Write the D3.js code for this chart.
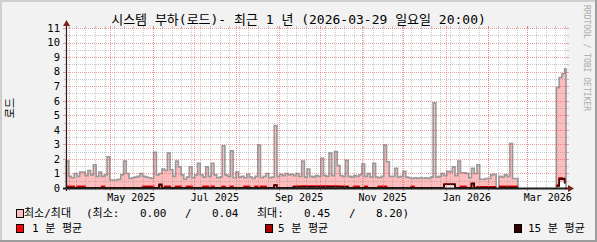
<!DOCTYPE html>
<html>
<head>
<meta charset="utf-8">
<script src="https://cdn.jsdelivr.net/npm/d3@7"></script>
<style>
  html, body { margin: 0; padding: 0; background: #f2f2f2; }
  svg { display: block; }
  text { font-family: "DejaVu Sans Mono", "Noto Sans CJK KR", monospace; fill: #000; }
</style>
</head>
<body>
<div id="chart"></div>
<script>
const title = "시스템 부하(로드)- 최근 1 년 (2026-03-29 일요일 20:00)";
const yLabel = "로드";
const watermark = "RRDTOOL / TOBI OETIKER";

const startTime = new Date(2025, 2, 29, 20, 0);
const endTime = new Date(2026, 2, 29, 20, 0);
const binDays = 2;

const yTicks = [0, 1, 2, 3, 4, 5, 6, 7, 8, 9, 10, 11];
const labelMonths = [new Date(2025, 4, 1), new Date(2025, 6, 1), new Date(2025, 8, 1),
  new Date(2025, 10, 1), new Date(2026, 0, 1), new Date(2026, 2, 1)];

// max load per 2-day bin (null = no data)
const maxLoad = [
  1.85, 0.8, 0.7, 1.0, 0.8, 1.1, 1.1, 0.85, 1.2, 0.9,
  1.6, 0.8, 1.1, 0.8, 0.9, 2.15, 0.55, 0.55, 0.55, 0.6,
  0.9, 1.85, 1.0, 0.65, 0.7, 0.75, 0.8, 1.0, 0.8, 0.75,
  0.7, 0.65, 2.45, 0.9, 1.0, 1.3, 1.2, 2.4, 1.25, 0.8,
  1.85, 1.45, 0.9, 0.6, 0.75, 1.45, 0.7, 0.9, 1.7, 0.9,
  0.75, 1.45, 0.8, 1.7, 0.9, 0.7, 0.75, 2.9, 0.9, 0.8,
  2.55, 0.7, 1.1, 0.75, 0.8, 0.7, 0.95, 0.75, 0.65, 0.8,
  2.95, 0.7, 0.8, 1.0, 0.7, 0.75, 4.3, 0.8, 0.95, 0.85,
  1.0, 0.9, 0.95, 0.85, 1.0, 0.8, 1.85, 0.75, 1.3, 0.8,
  0.75, 0.85, 0.8, 2.05, 0.85, 0.8, 2.4, 0.85, 2.5, 1.55,
  0.85, 0.8, 1.9, 0.8, 0.75, 0.85, 0.8, 0.9, 1.65, 0.8,
  1.0, 0.75, 1.7, 0.75, 0.7, 0.8, 2.95, 1.8, 0.8, 0.8,
  1.35, 0.75, 0.8, 1.15, 0.75, 0.7, 0.65, 0.7, 0.65, 0.7,
  0.65, 0.7, 0.65, 0.75, 5.85, 0.75, 0.8, 1.0, 0.85, 1.15,
  1.1, 1.45, 0.85, 1.85, 1.05, 1.05, 1.0, 0.7, 1.35, 1.0,
  1.6, 0.6, 0.6, 0.65, 0.65, 0.9, 0.95, null, 0.8, 0.75,
  0.9, 0.8, 3.05, 0.65, 0.65, null, null, null, null, null,
  null, null, null, null, null, null, null, null, null, 6.9,
  7.6, 7.85, 8.2
];

const minLoad = [
  0, 0, 0, 0, 0, 0, 0, 0, 0, 0,
  0, 0, 0, 0, 0, 0, 0, 0, 0, 0,
  0, 0, 0, 0, 0, 0, 0, 0, 0, 0,
  0, 0, 0, 0, 0, 0, 0, 0, 0, 0,
  0, 0, 0, 0, 0, 0, 0, 0, 0, 0,
  0, 0, 0, 0, 0, 0, 0, 0, 0, 0,
  0, 0, 0, 0, 0, 0, 0, 0, 0, 0,
  0, 0, 0, 0, 0, 0, 0, 0, 0, 0,
  0, 0, 0, 0, 0, 0, 0, 0, 0, 0,
  0, 0, 0, 0, 0, 0, 0, 0, 0, 0,
  0, 0, 0, 0, 0, 0, 0, 0, 0, 0,
  0, 0, 0, 0, 0, 0, 0, 0, 0, 0,
  0, 0, 0, 0, 0, 0, 0, 0, 0, 0,
  0, 0, 0, 0, 0, 0, 0, 0, 0.22, 0.22,
  0.22, 0.22, 0, 0, 0, 0, 0, 0, 0, 0,
  0, 0, 0, 0, 0, 0, 0, null, 0, 0,
  0, 0, 0, 0, 0, null, null, null, null, null,
  null, null, null, null, null, null, null, null, null, 0,
  0.4, 0.45, 0.3
];

const avg1 = [
  0.12, 0.12, 0.12, 0.01, 0.12, 0.12, 0.12, 0.01, 0.01, 0.01,
  0.01, 0.01, 0.01, 0.12, 0.01, 0.01, 0.01, 0.01, 0.01, 0.01,
  0.01, 0.01, 0.01, 0.01, 0.01, 0.01, 0.01, 0.01, 0.12, 0.12,
  0.12, 0.12, 0.01, 0.01, 0.15, 0.01, 0.12, 0.12, 0.01, 0.01,
  0.12, 0.12, 0.01, 0.01, 0.12, 0.12, 0.01, 0.01, 0.01, 0.01,
  0.12, 0.12, 0.01, 0.12, 0.01, 0.01, 0.01, 0.12, 0.01, 0.01,
  0.12, 0.01, 0.01, 0.01, 0.01, 0.12, 0.12, 0.01, 0.01, 0.12,
  0.01, 0.12, 0.12, 0.01, 0.01, 0.01, 0.2, 0.01, 0.01, 0.01,
  0.01, 0.01, 0.01, 0.12, 0.12, 0.12, 0.13, 0.13, 0.12, 0.13,
  0.13, 0.12, 0.13, 0.13, 0.12, 0.13, 0.12, 0.13, 0.13, 0.12,
  0.12, 0.12, 0.12, 0.01, 0.01, 0.12, 0.12, 0.01, 0.01, 0.12,
  0.01, 0.01, 0.01, 0.01, 0.12, 0.12, 0.12, 0.01, 0.01, 0.01,
  0.01, 0.01, 0.01, 0.01, 0.01, 0.01, 0.12, 0.01, 0.01, 0.01,
  0.01, 0.01, 0.01, 0.01, 0.01, 0.01, 0.01, 0.01, 0.24, 0.24,
  0.24, 0.24, 0.01, 0.01, 0.12, 0.12, 0.01, 0.01, 0.3, 0.01,
  0.09, 0.09, 0.09, 0.09, 0.09, 0.09, 0.09, null, 0.12, 0.12,
  0.12, 0.12, 0.12, 0.12, 0.12, null, null, null, null, null,
  null, null, null, null, null, null, null, null, null, 0.2,
  0.7, 0.6, 0.45
];

const avg5 = [
  0.08, 0.08, 0.06, 0.01, 0.06, 0.08, 0.06, 0.01, 0.01, 0.01,
  0.01, 0.01, 0.01, 0.06, 0.01, 0.01, 0.01, 0.01, 0.01, 0.01,
  0.01, 0.01, 0.01, 0.01, 0.01, 0.01, 0.01, 0.01, 0.08, 0.08,
  0.08, 0.06, 0.01, 0.01, 0.2, 0.01, 0.06, 0.08, 0.01, 0.01,
  0.06, 0.06, 0.01, 0.01, 0.06, 0.06, 0.01, 0.01, 0.01, 0.01,
  0.06, 0.06, 0.01, 0.06, 0.01, 0.01, 0.01, 0.06, 0.01, 0.01,
  0.06, 0.01, 0.01, 0.01, 0.01, 0.06, 0.06, 0.01, 0.01, 0.06,
  0.01, 0.06, 0.06, 0.01, 0.01, 0.01, 0.18, 0.01, 0.01, 0.01,
  0.01, 0.01, 0.01, 0.08, 0.1, 0.1, 0.11, 0.11, 0.1, 0.11,
  0.11, 0.1, 0.11, 0.11, 0.1, 0.11, 0.11, 0.11, 0.11, 0.1,
  0.1, 0.08, 0.08, 0.01, 0.01, 0.06, 0.06, 0.01, 0.01, 0.06,
  0.01, 0.01, 0.01, 0.01, 0.06, 0.06, 0.06, 0.01, 0.01, 0.01,
  0.01, 0.01, 0.01, 0.01, 0.01, 0.01, 0.06, 0.01, 0.01, 0.01,
  0.01, 0.01, 0.01, 0.01, 0.01, 0.01, 0.01, 0.01, 0.25, 0.25,
  0.25, 0.25, 0.01, 0.01, 0.06, 0.06, 0.01, 0.01, 0.3, 0.01,
  0.05, 0.05, 0.05, 0.05, 0.05, 0.05, 0.05, null, 0.06, 0.06,
  0.06, 0.06, 0.06, 0.06, 0.06, null, null, null, null, null,
  null, null, null, null, null, null, null, null, null, 0.16,
  0.62, 0.62, 0.4
];

const avg15 = [
  0.01, 0.01, 0.01, 0.01, 0.01, 0.01, 0.01, 0.01, 0.01, 0.01,
  0.01, 0.01, 0.01, 0.01, 0.01, 0.01, 0.01, 0.01, 0.01, 0.01,
  0.01, 0.01, 0.01, 0.01, 0.01, 0.01, 0.01, 0.01, 0.01, 0.01,
  0.01, 0.01, 0.01, 0.01, 0.25, 0.01, 0.01, 0.01, 0.01, 0.01,
  0.01, 0.01, 0.01, 0.01, 0.01, 0.01, 0.01, 0.01, 0.01, 0.01,
  0.01, 0.01, 0.01, 0.01, 0.01, 0.01, 0.01, 0.01, 0.01, 0.01,
  0.01, 0.01, 0.01, 0.01, 0.01, 0.01, 0.01, 0.01, 0.01, 0.01,
  0.01, 0.01, 0.01, 0.01, 0.01, 0.01, 0.2, 0.01, 0.01, 0.01,
  0.01, 0.01, 0.01, 0.07, 0.07, 0.07, 0.07, 0.07, 0.07, 0.07,
  0.07, 0.07, 0.07, 0.07, 0.07, 0.07, 0.07, 0.07, 0.07, 0.07,
  0.07, 0.07, 0.07, 0.01, 0.01, 0.01, 0.01, 0.01, 0.01, 0.01,
  0.01, 0.01, 0.01, 0.01, 0.01, 0.01, 0.01, 0.01, 0.01, 0.01,
  0.01, 0.01, 0.01, 0.01, 0.01, 0.01, 0.01, 0.01, 0.01, 0.01,
  0.01, 0.01, 0.01, 0.01, 0.01, 0.01, 0.01, 0.01, 0.25, 0.25,
  0.25, 0.25, 0.01, 0.01, 0.01, 0.01, 0.01, 0.01, 0.32, 0.01,
  0.01, 0.01, 0.01, 0.01, 0.01, 0.01, 0.01, null, 0.04, 0.04,
  0.04, 0.04, 0.04, 0.04, 0.04, null, null, null, null, null,
  null, null, null, null, null, null, null, null, null, 0.14,
  0.6, 0.65, 0.36
];

const legendStats = ["0.00", "0.04", "0.45", "8.20"];

const colors = {
  back: "#f2f2f2", canvas: "#ffffff", shadeA: "#cfcfcf", shadeB: "#9e9e9e",
  grid: "rgba(140,140,140,0.45)", mgrid: "rgba(222,79,79,0.55)",
  axis: "#1f1f1f", arrow: "#801f1f",
  area: "#ffbcbc", maxLine: "#999999",
  avg1: "#ff0000", avg5: "#aa0000", avg15: "#330000"
};

const W = 597, H = 242;
const plot = { left: 66, right: 566, top: 28, bottom: 188 };

const svg = d3.select("#chart").append("svg")
  .attr("width", W)
  .attr("height", H);

// background and 3d frame
svg.append("rect").attr("width", W).attr("height", H).attr("fill", colors.back);
svg.append("path").attr("d", `M0,0H${W}V2H2V${H}H0Z`).attr("fill", colors.shadeA);
svg.append("path").attr("d", `M${W},${H}H0V${H - 2}H${W - 2}V0H${W}Z`).attr("fill", colors.shadeB);

svg.append("rect")
  .attr("x", plot.left).attr("y", plot.top)
  .attr("width", plot.right - plot.left + 1).attr("height", plot.bottom - plot.top)
  .attr("fill", colors.canvas);

const x = d3.scaleTime().domain([startTime, endTime]).range([plot.left, plot.right]);
const y = d3.scaleLinear().domain([0, 11]).range([plot.bottom, plot.top]);

const binMs = binDays * 864e5;
const bins = maxLoad.map((v, i) => ({
  t0: new Date(+startTime + i * binMs),
  t1: new Date(Math.min(+startTime + (i + 1) * binMs, +endTime)),
  max: v, min: minLoad[i], a1: avg1[i], a5: avg5[i], a15: avg15[i]
}));
const steps = bins.flatMap(b => [{ ...b, t: b.t0 }, { ...b, t: b.t1 }]);

// min / max band
svg.append("path")
  .datum(steps)
  .attr("fill", colors.area)
  .attr("d", d3.area()
    .defined(d => d.max != null)
    .x(d => x(d.t))
    .y0(d => y(d.min))
    .y1(d => y(d.max)));

// max outline, closed down to zero at each data block edge
const outline = [];
bins.forEach((b, i) => {
  const prev = bins[i - 1], next = bins[i + 1];
  if (b.max == null) { outline.push(null); return; }
  if (!prev || prev.max == null) outline.push({ t: b.t0, v: 0 });
  outline.push({ t: b.t0, v: b.max }, { t: b.t1, v: b.max });
  if (!next || next.max == null) outline.push({ t: b.t1, v: 0 });
});

svg.append("path")
  .datum(outline)
  .attr("fill", "none")
  .attr("stroke", colors.maxLine)
  .attr("stroke-width", 1.6)
  .attr("d", d3.line().defined(d => d).x(d => x(d.t)).y(d => y(d.v)));

[["a1", colors.avg1], ["a5", colors.avg5], ["a15", colors.avg15]].forEach(([key, col]) => {
  svg.append("path")
    .datum(steps)
    .attr("fill", "none")
    .attr("stroke", col)
    .attr("stroke-width", 1.5)
    .attr("d", d3.line().defined(d => d[key] != null).x(d => x(d.t)).y(d => y(d[key])));
});

// grid (drawn over the data, like rrdtool)
const grid = svg.append("g").attr("stroke-dasharray", "1,1").attr("stroke-width", 1);
const snap = v => Math.round(v) + 0.5;

const minorY = d3.range(0.5, 11, 1);
grid.selectAll(".ygrid-minor").data(minorY).enter().append("line")
  .attr("x1", plot.left).attr("x2", plot.right + 1)
  .attr("y1", d => snap(y(d))).attr("y2", d => snap(y(d)))
  .attr("stroke", colors.grid);

const weeks = d3.timeSunday.range(startTime, endTime);
grid.selectAll(".xgrid-minor").data(weeks).enter().append("line")
  .attr("x1", d => snap(x(d))).attr("x2", d => snap(x(d)))
  .attr("y1", plot.top).attr("y2", plot.bottom)
  .attr("stroke", colors.grid);

grid.selectAll(".ygrid-major").data(yTicks.slice(1)).enter().append("line")
  .attr("x1", plot.left).attr("x2", plot.right + 1)
  .attr("y1", d => snap(y(d))).attr("y2", d => snap(y(d)))
  .attr("stroke", colors.mgrid);

const months = d3.timeMonth.range(startTime, endTime);
grid.selectAll(".xgrid-major").data(months).enter().append("line")
  .attr("x1", d => snap(x(d))).attr("x2", d => snap(x(d)))
  .attr("y1", plot.top).attr("y2", plot.bottom)
  .attr("stroke", colors.mgrid);

// small tick marks outside the plot
const ticks = svg.append("g").attr("stroke-width", 1);
weeks.forEach(d => {
  ticks.append("line").attr("x1", snap(x(d))).attr("x2", snap(x(d)))
    .attr("y1", plot.top - 2).attr("y2", plot.top).attr("stroke", colors.grid);
  ticks.append("line").attr("x1", snap(x(d))).attr("x2", snap(x(d)))
    .attr("y1", plot.bottom).attr("y2", plot.bottom + 2).attr("stroke", colors.grid);
});
months.forEach(d => {
  ticks.append("line").attr("x1", snap(x(d))).attr("x2", snap(x(d)))
    .attr("y1", plot.top - 2).attr("y2", plot.top).attr("stroke", colors.mgrid);
  ticks.append("line").attr("x1", snap(x(d))).attr("x2", snap(x(d)))
    .attr("y1", plot.bottom).attr("y2", plot.bottom + 3).attr("stroke", colors.mgrid);
});
minorY.forEach(d => {
  ticks.append("line").attr("x1", plot.left - 2).attr("x2", plot.left)
    .attr("y1", snap(y(d))).attr("y2", snap(y(d))).attr("stroke", colors.grid);
  ticks.append("line").attr("x1", plot.right + 1).attr("x2", plot.right + 3)
    .attr("y1", snap(y(d))).attr("y2", snap(y(d))).attr("stroke", colors.grid);
});
yTicks.forEach(d => {
  ticks.append("line").attr("x1", plot.left - 3).attr("x2", plot.left)
    .attr("y1", snap(y(d))).attr("y2", snap(y(d))).attr("stroke", colors.mgrid);
  ticks.append("line").attr("x1", plot.right + 1).attr("x2", plot.right + 3)
    .attr("y1", snap(y(d))).attr("y2", snap(y(d))).attr("stroke", colors.mgrid);
});

// axes with arrows
svg.append("line")
  .attr("x1", plot.left - 3).attr("x2", plot.right + 3)
  .attr("y1", y(0) + 0.5).attr("y2", y(0) + 0.5)
  .attr("stroke", colors.axis).attr("stroke-width", 2);
svg.append("line")
  .attr("x1", plot.left + 0.5).attr("x2", plot.left + 0.5)
  .attr("y1", plot.bottom + 3).attr("y2", plot.top - 3)
  .attr("stroke", colors.axis).attr("stroke-width", 1.2);
svg.append("path")
  .attr("d", `M${plot.right + 2},${y(0) - 3}L${plot.right + 8},${y(0) + 0.5}L${plot.right + 2},${y(0) + 4}Z`)
  .attr("fill", colors.arrow);
svg.append("path")
  .attr("d", `M${plot.left - 3},${plot.top - 2}L${plot.left + 0.5},${plot.top - 8}L${plot.left + 4},${plot.top - 2}Z`)
  .attr("fill", colors.arrow);

// axis labels
svg.selectAll(".ylabel").data(yTicks).enter().append("text")
  .attr("x", plot.left - 6)
  .attr("y", d => y(d) + 3.8)
  .attr("text-anchor", "end")
  .style("font-size", "10.5px")
  .text(d => d);

const fmtMonth = d3.timeFormat("%b %Y");
svg.selectAll(".xlabel").data(labelMonths).enter().append("text")
  .attr("x", d => (x(d) + x(d3.timeMonth.offset(d, 1))) / 2)
  .attr("y", plot.bottom + 13)
  .attr("text-anchor", "middle")
  .style("font-size", "10px")
  .text(d => fmtMonth(d));

svg.append("text")
  .attr("x", W / 2)
  .attr("y", 24)
  .attr("text-anchor", "middle")
  .style("font-size", "13px")
  .text(title);

svg.append("text")
  .attr("transform", `translate(14,${(plot.top + plot.bottom) / 2}) rotate(-90)`)
  .attr("text-anchor", "middle")
  .style("font-size", "11px")
  .text(yLabel);

svg.append("text")
  .attr("transform", "translate(584,5) rotate(90)")
  .style("font-size", "8px")
  .style("fill", "#aaaaaa")
  .text(watermark);

// legend
const legend = svg.append("g").style("font-size", "11px");

const legendBoxes = [
  { x: 16, y: 209, fill: colors.area },
  { x: 16, y: 224, fill: colors.avg1 },
  { x: 265, y: 224, fill: colors.avg5 },
  { x: 514, y: 224, fill: colors.avg15 }
];
legend.selectAll("rect").data(legendBoxes).enter().append("rect")
  .attr("x", d => d.x + 0.5).attr("y", d => d.y + 0.5)
  .attr("width", 7).attr("height", 8)
  .attr("fill", d => d.fill)
  .attr("stroke", "#000").attr("stroke-width", 1);

const legendTexts = [
  { x: 24, y: 217, t: "최소/최대" },
  { x: 86, y: 217, t: "(최소:" },
  { x: 140, y: 217, t: legendStats[0] },
  { x: 185, y: 217, t: "/" },
  { x: 212, y: 217, t: legendStats[1] },
  { x: 257, y: 217, t: "최대:" },
  { x: 304, y: 217, t: legendStats[2] },
  { x: 349, y: 217, t: "/" },
  { x: 376, y: 217, t: legendStats[3] + ")" },
  { x: 32, y: 232, t: "1 분 평균" },
  { x: 278, y: 232, t: "5 분 평균" },
  { x: 528, y: 232, t: "15 분 평균" }
];
legend.selectAll("text").data(legendTexts).enter().append("text")
  .attr("x", d => d.x).attr("y", d => d.y)
  .text(d => d.t);
</script>
</body>
</html>
